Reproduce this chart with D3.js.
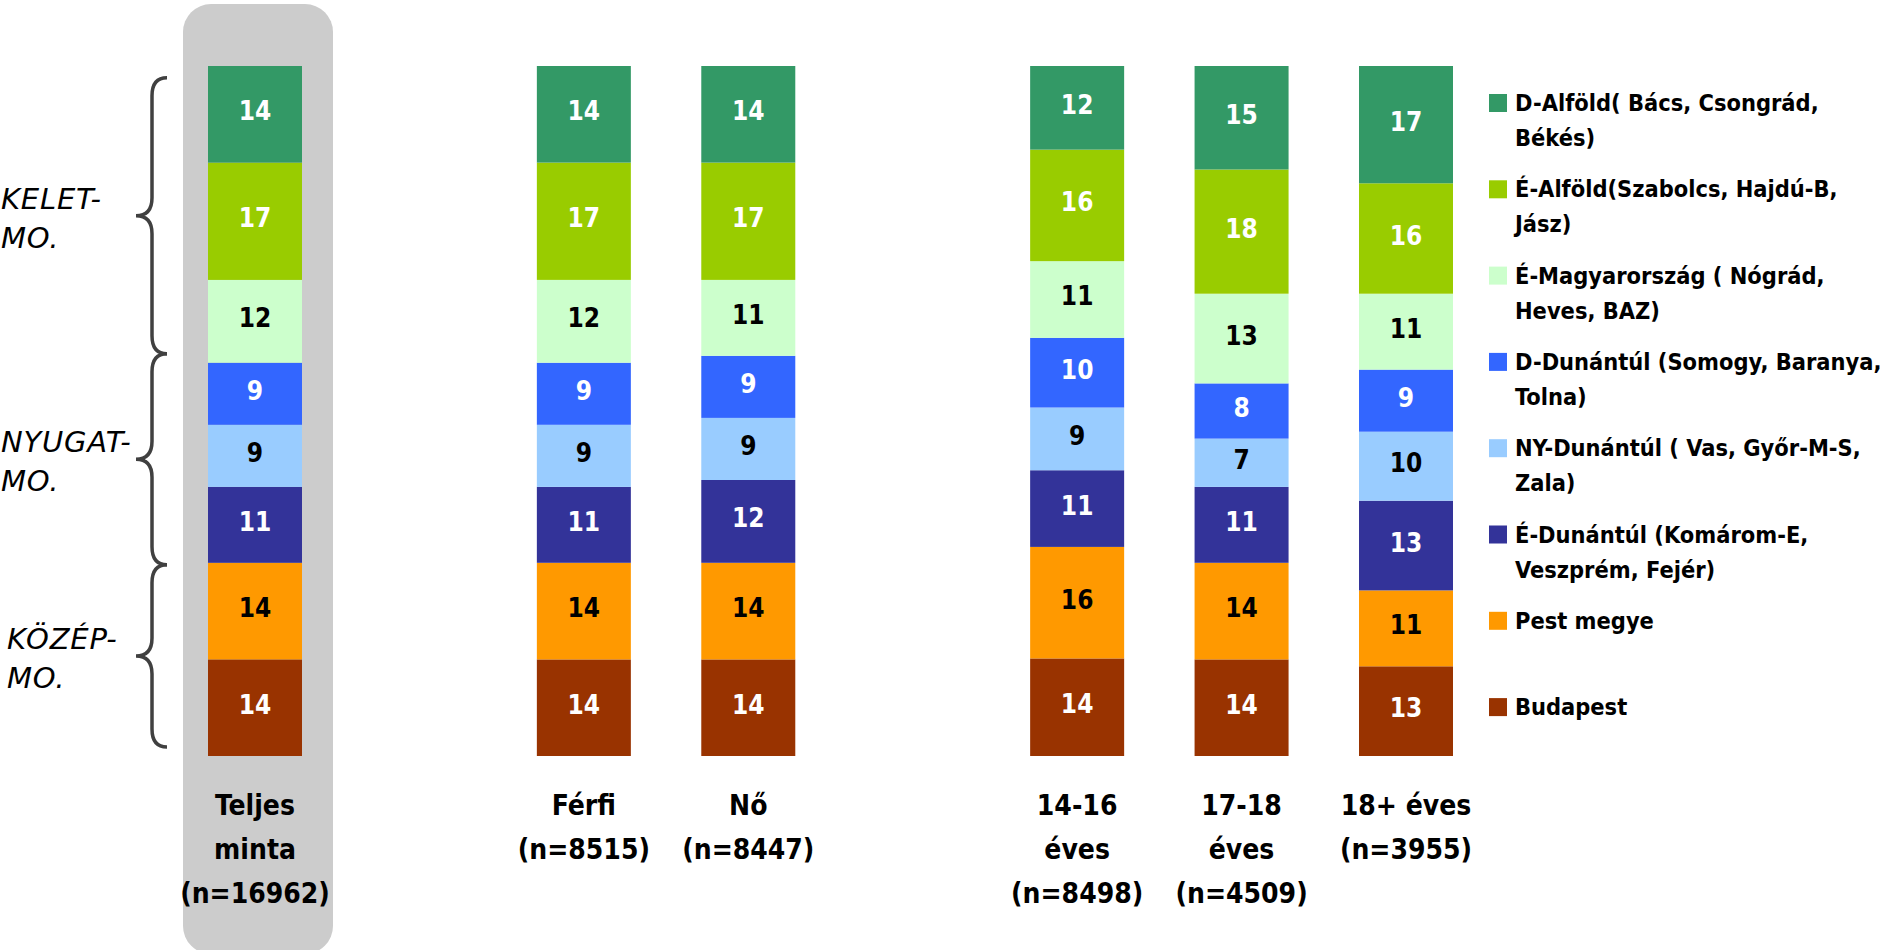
<!DOCTYPE html>
<html><head><meta charset="utf-8">
<script src="https://cdn.jsdelivr.net/npm/d3@7"></script>
<style>
html,body{margin:0;padding:0;background:#fff;overflow:hidden;}
svg{display:block;}
</style></head>
<body><svg id="chart" width="1886" height="950"></svg>
<script>
// ---- data ----
const categories = ["Teljes minta", "Férfi", "Nő", "14-16 éves", "17-18 éves", "18+ éves"];
const categoryGroups = [0, 1, 1, 2, 2, 2];
const categoryLabels = [
  ["Teljes", "minta", "(n=16962)"],
  ["Férfi", "(n=8515)"],
  ["Nő", "(n=8447)"],
  ["14-16", "éves", "(n=8498)"],
  ["17-18", "éves", "(n=4509)"],
  ["18+ éves", "(n=3955)"]
];
const regions = ["D-Alföld", "É-Alföld", "É-Magyarország", "D-Dunántúl", "NY-Dunántúl", "É-Dunántúl", "Pest megye", "Budapest"];
const legendLabels = [
  ["D-Alföld( Bács, Csongrád,", "Békés)"],
  ["É-Alföld(Szabolcs, Hajdú-B,", "Jász)"],
  ["É-Magyarország ( Nógrád,", "Heves, BAZ)"],
  ["D-Dunántúl (Somogy, Baranya,", "Tolna)"],
  ["NY-Dunántúl ( Vas, Győr-M-S,", "Zala)"],
  ["É-Dunántúl (Komárom-E,", "Veszprém, Fejér)"],
  ["Pest megye"],
  ["Budapest"]
];
const dAlfold   = [14, 14, 14, 12, 15, 17];
const eAlfold   = [17, 17, 17, 16, 18, 16];
const eMagyar   = [12, 12, 11, 11, 13, 11];
const dDunantul = [9, 9, 9, 10, 8, 9];
const nyDunantul= [9, 9, 9, 9, 7, 10];
const eDunantul = [11, 11, 12, 11, 11, 13];
const pest      = [14, 14, 14, 16, 14, 11];
const budapest  = [14, 14, 14, 14, 14, 13];
const seriesValues = [dAlfold, eAlfold, eMagyar, dDunantul, nyDunantul, eDunantul, pest, budapest];
const colors = ["#339966", "#99CC00", "#CCFFCC", "#3366FF", "#99CCFF", "#333399", "#FF9900", "#993300"];
const labelColors = ["#fff", "#fff", "#000", "#fff", "#000", "#fff", "#000", "#fff"];
// region brackets (in % of the total-sample bar, from top)
const braceGroups = [["KELET-", "MO."], ["NYUGAT-", "MO."], ["KÖZÉP-", "MO."]];
const braceRanges = [[1.7, 41.7], [41.7, 72.3], [72.3, 98.7]];

// ---- layout ----
const svg = d3.select("#chart");
const boldFont = "'DejaVu Sans Condensed', 'DejaVu Sans', sans-serif";
const slot = categories.map((c, i) => i + categoryGroups[i]);
const x = d3.scaleLinear().domain([0, 7]).range([255, 1406]);
const barW = 94;
const y = d3.scaleLinear().domain([0, 1]).range([756, 66]);
const yPct = d3.scaleLinear().domain([0, 100]).range([66, 756]);

// table for stacking
const table = categories.map((c, i) => {
  const o = {cat: c, idx: i};
  regions.forEach((r, k) => o[r] = seriesValues[k][i]);
  return o;
});
const stackKeys = regions.slice().reverse();
const stacked = d3.stack().keys(stackKeys).offset(d3.stackOffsetExpand)(table);

// highlight background behind total sample
svg.append("rect")
  .attr("x", x(slot[0]) - 72).attr("y", 4)
  .attr("width", 150).attr("height", 950)
  .attr("rx", 28).attr("fill", "#cccccc");

// bars
stacked.forEach(layer => {
  const k = regions.indexOf(layer.key);
  const g = svg.append("g");
  g.selectAll("rect").data(layer).join("rect")
    .attr("x", d => x(slot[d.data.idx]) - barW / 2)
    .attr("y", d => y(d[1]))
    .attr("width", barW)
    .attr("height", d => y(d[0]) - y(d[1]))
    .attr("fill", colors[k]);
  g.selectAll("text").data(layer).join("text")
    .attr("x", d => x(slot[d.data.idx]))
    .attr("y", d => (y(d[0]) + y(d[1])) / 2 - 3)
    .attr("text-anchor", "middle")
    .attr("dominant-baseline", "central")
    .attr("font-family", boldFont)
    .attr("font-weight", "bold")
    .attr("font-size", 26)
    .attr("fill", labelColors[k])
    .text(d => d.data[layer.key]);
});

// category labels
categoryLabels.forEach((lines, i) => {
  const t = svg.append("text")
    .attr("text-anchor", "middle")
    .attr("font-family", boldFont)
    .attr("font-weight", "bold")
    .attr("font-size", 28)
    .attr("fill", "#000");
  lines.forEach((ln, j) => {
    t.append("tspan").attr("x", x(slot[i])).attr("y", 805 + j * 44)
      .attr("dominant-baseline", "central").text(ln);
  });
});

// legend
legendLabels.forEach((lines, i) => {
  const cy = 103 + i * 86.3;
  svg.append("rect").attr("x", 1489).attr("y", cy - 9)
    .attr("width", 18).attr("height", 18).attr("fill", colors[i]);
  const t = svg.append("text")
    .attr("font-family", boldFont)
    .attr("font-weight", "bold")
    .attr("font-size", 23.4)
    .attr("fill", "#000");
  lines.forEach((ln, j) => {
    t.append("tspan").attr("x", 1515).attr("y", cy + j * 35)
      .attr("dominant-baseline", "central").text(ln);
  });
});

// braces and group labels
const eX = 167, sX = 152, tX = 136, r = 18;
braceRanges.forEach((rg, i) => {
  const y0 = yPct(rg[0]), y1 = yPct(rg[1]), ym = (y0 + y1) / 2;
  const p = d3.path();
  p.moveTo(eX, y0);
  p.quadraticCurveTo(sX, y0, sX, y0 + r);
  p.lineTo(sX, ym - r);
  p.quadraticCurveTo(sX, ym, tX, ym);
  p.quadraticCurveTo(sX, ym, sX, ym + r);
  p.lineTo(sX, y1 - r);
  p.quadraticCurveTo(sX, y1, eX, y1);
  svg.append("path").attr("d", p.toString())
    .attr("fill", "none").attr("stroke", "#404040").attr("stroke-width", 3.5);
  const lx = i === 2 ? 7 : 1;
  const t = svg.append("text")
    .attr("font-family", "'DejaVu Sans', sans-serif")
    .attr("font-style", "italic")
    .attr("font-size", 29)
    .attr("letter-spacing", 0.8)
    .attr("fill", "#000");
  braceGroups[i].forEach((ln, j) => {
    t.append("tspan").attr("x", lx).attr("y", ym - 17 + j * 39)
      .attr("dominant-baseline", "central").text(ln);
  });
});
</script></body></html>
